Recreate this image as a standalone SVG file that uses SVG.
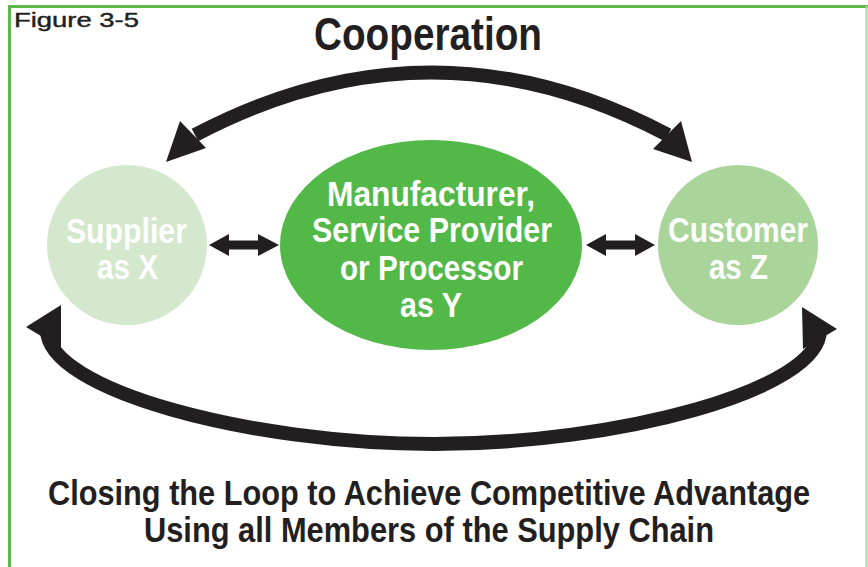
<svg xmlns="http://www.w3.org/2000/svg" width="868" height="567" viewBox="0 0 868 567">
<style>
  .t { font-family: "Liberation Sans", Arial, sans-serif; font-weight: bold; }
  .dark { fill: #231f20; }
  .white { fill: #ffffff; }
  .arc { fill: none; stroke: #231f20; stroke-width: 14; }
  .head { fill: #231f20; }
</style>
<rect width="868" height="567" fill="#ffffff"/>
<g id="frame">
  <line x1="9.5" y1="6" x2="9.5" y2="567" stroke="#5cb94a" stroke-width="3"/>
  <line x1="8" y1="6.5" x2="868" y2="6.5" stroke="#5cb94a" stroke-width="3"/>
  <line x1="866.5" y1="6" x2="866.5" y2="567" stroke="#a9d69f" stroke-width="2"/>
</g>
<text class="dark" x="14" y="27" font-family="Liberation Sans, Arial, sans-serif" font-size="20" stroke="#231f20" stroke-width="0.4" textLength="125" lengthAdjust="spacingAndGlyphs">Figure 3-5</text>
<g transform="scale(0.85,1)">
  <text class="t dark" x="369.4" y="50" font-size="46" textLength="268.2" lengthAdjust="spacingAndGlyphs">Cooperation</text>
</g>

<g id="connectors">
  <path class="arc" d="M195,135 Q432,10 668,135"/>
  <polygon class="head" points="166,162 180,121 206,148"/>
  <polygon class="head" points="692,162 681,121 653,149"/>
  <path class="arc" d="M47,330 C47,390 250,444 434,444 C618,444 820,390 820,330"/>
  <polygon class="head" points="26,327 61,305 61,348"/>
  <polygon class="head" points="837,329 802,307 803,349"/>
  <polygon class="head" points="209,245 229,234 229,240.5 258,240.5 258,234 279,245 258,256 258,249.5 229,249.5 229,256"/>
  <polygon class="head" points="586,245 606,234 606,240.5 635,240.5 635,234 655,245 635,256 635,249.5 606,249.5 606,256"/>
</g>

<g id="supplier">
  <circle cx="127" cy="245" r="80" fill="#d3e8cc"/>
  <g transform="scale(0.85,1)">
    <text class="t white" x="77.6" y="243" font-size="35" textLength="142.4" lengthAdjust="spacingAndGlyphs">Supplier</text>
    <text class="t white" x="114.1" y="279" font-size="35" textLength="71.8" lengthAdjust="spacingAndGlyphs">as X</text>
  </g>
</g>

<g id="manufacturer">
  <ellipse cx="431" cy="245" rx="151" ry="105" fill="#52b848"/>
  <g transform="scale(0.85,1)">
    <text class="t white" x="384.7" y="206" font-size="35" textLength="244.7" lengthAdjust="spacingAndGlyphs">Manufacturer,</text>
    <text class="t white" x="367.1" y="242" font-size="35" textLength="282.4" lengthAdjust="spacingAndGlyphs">Service Provider</text>
    <text class="t white" x="400" y="280" font-size="35" textLength="215.3" lengthAdjust="spacingAndGlyphs">or Processor</text>
    <text class="t white" x="470.6" y="317" font-size="35" textLength="72.9" lengthAdjust="spacingAndGlyphs">as Y</text>
  </g>
</g>

<g id="customer">
  <circle cx="738" cy="245" r="80" fill="#a9d59b"/>
  <g transform="scale(0.85,1)">
    <text class="t white" x="785.9" y="242" font-size="35" textLength="164.7" lengthAdjust="spacingAndGlyphs">Customer</text>
    <text class="t white" x="834.1" y="279" font-size="35" textLength="69.4" lengthAdjust="spacingAndGlyphs">as Z</text>
  </g>
</g>

<g transform="scale(0.85,1)">
  <text class="t dark" x="56.5" y="505" font-size="36" textLength="896.5" lengthAdjust="spacingAndGlyphs">Closing the Loop to Achieve Competitive Advantage</text>
  <text class="t dark" x="169.4" y="542" font-size="36" textLength="670.6" lengthAdjust="spacingAndGlyphs">Using all Members of the Supply Chain</text>
</g>
</svg>
